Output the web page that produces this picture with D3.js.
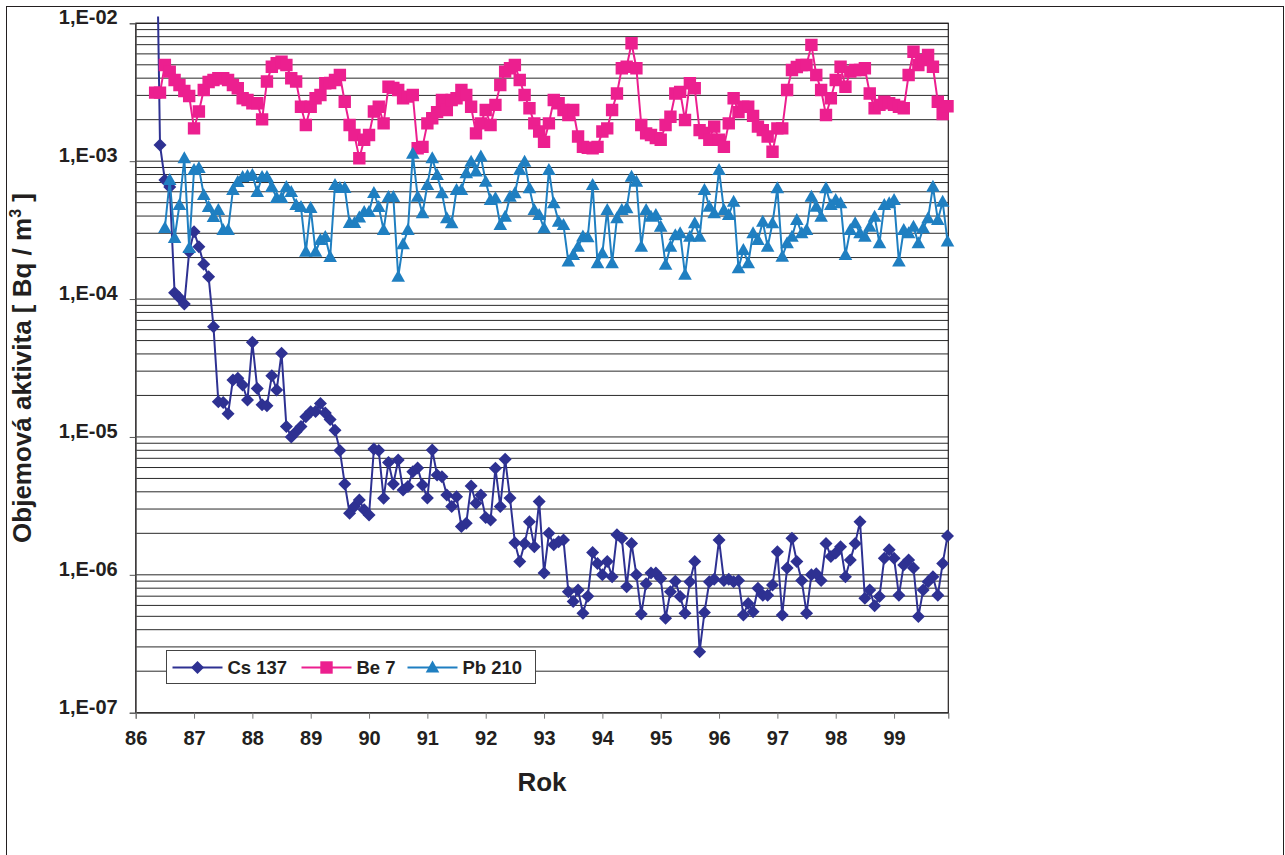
<!DOCTYPE html>
<html>
<head>
<meta charset="utf-8">
<script src="https://cdn.jsdelivr.net/npm/d3@7"></script>
<style>
  body { margin: 0; background: #fff; }
  svg text { font-family: "Liberation Sans", Arial, sans-serif; font-weight: bold; fill: #231f20; }
</style>
</head>
<body>
<svg id="chart" width="1285" height="855"></svg>
<script>
// -----
// DATA: monthly values, month index counted from Jan 1986 (0)
// -----
const years = [86, 87, 88, 89, 90, 91, 92, 93, 94, 95, 96, 97, 98, 99];
const yTickValues = [1e-7, 1e-6, 1e-5, 1e-4, 1e-3, 1e-2];

const seriesNames = ["Cs 137", "Be 7", "Pb 210"];

const cs137Start = 4; // May 1986
const cs137 = [
  0.28, 1.31e-3, 7.3e-4, 6.5e-4, 1.11e-4, 1.02e-4, 9.2e-5, 2.2e-4,
  3.08e-4, 2.4e-4, 1.79e-4, 1.45e-4, 6.3e-5, 1.8e-5, 1.78e-5, 1.47e-5,
  2.59e-5, 2.67e-5, 2.38e-5, 1.85e-5, 4.86e-5, 2.25e-5, 1.71e-5, 1.68e-5,
  2.78e-5, 2.19e-5, 4.05e-5, 1.19e-5, 1.0e-5, 1.09e-5, 1.19e-5, 1.4e-5,
  1.52e-5, 1.53e-5, 1.75e-5, 1.49e-5, 1.34e-5, 1.12e-5, 7.96e-6, 4.56e-6,
  2.8e-6, 3.13e-6, 3.49e-6, 2.96e-6, 2.72e-6, 8.18e-6, 7.96e-6, 3.59e-6,
  6.52e-6, 4.56e-6, 6.8e-6, 4.13e-6, 4.37e-6, 5.6e-6, 5.95e-6, 4.49e-6,
  3.6e-6, 8.05e-6, 5.3e-6, 5.15e-6, 3.8e-6, 3.13e-6, 3.69e-6, 2.24e-6,
  2.37e-6, 4.41e-6, 3.3e-6, 3.8e-6, 2.6e-6, 2.5e-6, 5.93e-6, 3.13e-6,
  6.89e-6, 3.6e-6, 1.71e-6, 1.25e-6, 1.69e-6, 2.43e-6, 1.6e-6, 3.4e-6,
  1.03e-6, 2.0e-6, 1.65e-6, 1.74e-6, 1.79e-6, 7.55e-7, 6.4e-7, 7.76e-7,
  5.27e-7, 7.0e-7, 1.45e-6, 1.21e-6, 1.0e-6, 1.25e-6, 9.7e-7, 1.95e-6,
  1.84e-6, 8.2e-7, 1.69e-6, 1.0e-6, 5.2e-7, 8.6e-7, 1.03e-6, 1.03e-6,
  9.4e-7, 4.84e-7, 7.55e-7, 9.0e-7, 6.95e-7, 5.27e-7, 8.9e-7, 1.25e-6,
  2.77e-7, 5.33e-7, 8.9e-7, 9.3e-7, 1.79e-6, 9.1e-7, 9.3e-7, 8.9e-7,
  9.1e-7, 5.12e-7, 6.2e-7, 5.4e-7, 8.0e-7, 7.1e-7, 7.1e-7, 8.45e-7,
  1.47e-6, 5.12e-7, 1.12e-6, 1.84e-6, 1.25e-6, 9.1e-7, 5.27e-7, 1.0e-6,
  1.02e-6, 9.1e-7, 1.69e-6, 1.36e-6, 1.44e-6, 1.6e-6, 9.7e-7, 1.28e-6,
  1.69e-6, 2.43e-6, 6.76e-7, 7.76e-7, 5.96e-7, 6.95e-7, 1.32e-6, 1.52e-6,
  1.32e-6, 7.1e-7, 1.18e-6, 1.28e-6, 1.12e-6, 4.98e-7, 7.76e-7, 8.9e-7,
  9.7e-7, 7.1e-7, 1.21e-6, 1.91e-6
];

const be7Start = 4; // May 1986
const be7 = [
  3.14e-3, 3.14e-3, 4.99e-3, 4.46e-3, 3.88e-3, 3.57e-3, 3.23e-3, 2.97e-3,
  1.73e-3, 2.29e-3, 3.28e-3, 3.75e-3, 3.88e-3, 3.99e-3, 3.99e-3, 3.88e-3,
  3.57e-3, 3.38e-3, 2.86e-3, 2.78e-3, 2.63e-3, 2.63e-3, 2.01e-3, 3.78e-3,
  4.84e-3, 5.13e-3, 5.27e-3, 4.99e-3, 3.99e-3, 3.78e-3, 2.48e-3, 1.83e-3,
  2.48e-3, 2.86e-3, 3.02e-3, 3.67e-3, 3.69e-3, 3.88e-3, 4.22e-3, 2.7e-3,
  1.83e-3, 1.55e-3, 1.05e-3, 1.43e-3, 1.55e-3, 2.29e-3, 2.48e-3, 1.88e-3,
  3.47e-3, 3.4e-3, 3.28e-3, 2.86e-3, 2.94e-3, 3.02e-3, 1.24e-3, 1.27e-3,
  1.88e-3, 2.05e-3, 2.27e-3, 2.78e-3, 2.35e-3, 2.78e-3, 2.86e-3, 3.28e-3,
  3.02e-3, 2.48e-3, 1.59e-3, 1.88e-3, 2.35e-3, 1.83e-3, 2.56e-3, 3.57e-3,
  4.46e-3, 4.72e-3, 4.99e-3, 3.88e-3, 3.02e-3, 2.42e-3, 1.88e-3, 1.64e-3,
  1.38e-3, 1.88e-3, 2.78e-3, 2.63e-3, 2.35e-3, 2.16e-3, 2.35e-3, 1.51e-3,
  1.27e-3, 1.25e-3, 1.24e-3, 1.27e-3, 1.64e-3, 1.73e-3, 2.35e-3, 3.1e-3,
  4.72e-3, 4.84e-3, 7.16e-3, 4.72e-3, 1.83e-3, 1.59e-3, 1.55e-3, 1.47e-3,
  1.43e-3, 1.83e-3, 2.1e-3, 3.1e-3, 3.18e-3, 1.99e-3, 3.67e-3, 3.38e-3,
  1.68e-3, 1.6e-3, 1.43e-3, 1.78e-3, 1.43e-3, 1.27e-3, 1.88e-3, 2.86e-3,
  2.27e-3, 2.48e-3, 2.48e-3, 2.13e-3, 1.78e-3, 1.68e-3, 1.51e-3, 1.17e-3,
  1.73e-3, 1.73e-3, 3.28e-3, 4.58e-3, 4.82e-3, 4.99e-3, 4.99e-3, 6.97e-3,
  4.22e-3, 3.28e-3, 2.16e-3, 2.86e-3, 3.88e-3, 4.84e-3, 3.47e-3, 4.46e-3,
  4.58e-3, 4.58e-3, 4.72e-3, 3.1e-3, 2.42e-3, 2.56e-3, 2.7e-3, 2.63e-3,
  2.56e-3, 2.48e-3, 2.42e-3, 4.22e-3, 6.22e-3, 4.99e-3, 5.42e-3, 5.89e-3,
  4.84e-3, 2.7e-3, 2.2e-3, 2.5e-3
];

const pb210Start = 6; // Jul 1986
const pb210 = [
  3.28e-4, 7.3e-4, 2.77e-4, 4.81e-4, 1.05e-3, 2.35e-4, 8.63e-4, 8.93e-4,
  5.69e-4, 4.65e-4, 3.94e-4, 4.43e-4, 3.17e-4, 3.17e-4, 6.18e-4, 7.07e-4,
  7.67e-4, 7.8e-4, 7.94e-4, 5.98e-4, 7.67e-4, 7.67e-4, 6.5e-4, 5.41e-4,
  5.41e-4, 6.5e-4, 5.98e-4, 4.81e-4, 4.65e-4, 2.2e-4, 4.57e-4, 2.2e-4,
  2.68e-4, 2.82e-4, 2.02e-4, 6.72e-4, 6.4e-4, 6.4e-4, 3.56e-4, 3.56e-4,
  3.9e-4, 4.28e-4, 4.28e-4, 5.88e-4, 4.65e-4, 3.17e-4, 5.5e-4, 5.5e-4,
  1.45e-4, 2.5e-4, 3.17e-4, 1.13e-3, 5.53e-4, 4.19e-4, 6.72e-4, 1.05e-3,
  7.94e-4, 5.85e-4, 3.86e-4, 3.55e-4, 6.18e-4, 6.18e-4, 8.17e-4, 9.91e-4,
  8.4e-4, 1.08e-3, 7.1e-4, 5.24e-4, 5.38e-4, 3.44e-4, 3.96e-4, 5.53e-4,
  5.85e-4, 8.63e-4, 9.91e-4, 6.35e-4, 4.43e-4, 4.07e-4, 3.26e-4, 8.63e-4,
  4.95e-4, 3.64e-4, 3.44e-4, 1.87e-4, 2.09e-4, 2.4e-4, 2.84e-4, 2.81e-4,
  6.72e-4, 1.82e-4, 2.15e-4, 4.43e-4, 1.82e-4, 3.86e-4, 4.43e-4, 4.55e-4,
  7.72e-4, 7.1e-4, 2.4e-4, 4.43e-4, 3.96e-4, 4.07e-4, 3.35e-4, 1.77e-4,
  2.4e-4, 2.9e-4, 3.0e-4, 1.5e-4, 2.83e-4, 3.55e-4, 2.83e-4, 6.18e-4,
  4.68e-4, 4.19e-4, 8.63e-4, 4.43e-4, 4.07e-4, 5.08e-4, 1.67e-4, 2.27e-4,
  1.82e-4, 3.0e-4, 2.68e-4, 3.64e-4, 2.4e-4, 3.55e-4, 6.35e-4, 2.03e-4,
  2.54e-4, 2.83e-4, 3.75e-4, 3.0e-4, 3.17e-4, 5.53e-4, 4.68e-4, 3.96e-4,
  6.35e-4, 4.81e-4, 5.24e-4, 4.96e-4, 2.09e-4, 3.17e-4, 3.55e-4, 3.0e-4,
  2.83e-4, 3.35e-4, 3.96e-4, 2.54e-4, 4.81e-4, 4.96e-4, 5.24e-4, 1.87e-4,
  3.17e-4, 3.0e-4, 3.35e-4, 2.54e-4, 3.26e-4, 3.86e-4, 6.53e-4, 3.75e-4,
  5.08e-4, 2.61e-4
];

// -----
// LAYOUT
// -----
const svg = d3.select("#chart");
const plot = { left: 135.7, right: 948.3, top: 23.3, bottom: 712.7 };

const colors = { cs: "#2e3192", be: "#ec1f8f", pb: "#1f7fc1" };

// month index -> decimal year on the category axis
const toYear = m => 86 + m / 12;
const toPoints = (start, values) => values.map((v, i) => ({ t: toYear(start + i), v }));

const xScale = d3.scaleLinear().domain([86, 99.93]).range([plot.left, plot.right]);
const yScale = d3.scaleLog().domain([1e-7, 1e-2]).range([plot.bottom, plot.top]);

// outer chart border
svg.append("rect")
  .attr("x", 6.5).attr("y", 6.5)
  .attr("width", 1277).attr("height", 870)
  .attr("fill", "none").attr("stroke", "#231f20").attr("stroke-width", 1);

// grid: every 1..9 of each decade
svg.append("g")
  .attr("class", "grid")
  .selectAll("line")
  .data(yScale.ticks())
  .join("line")
  .attr("x1", plot.left).attr("x2", plot.right)
  .attr("y1", d => yScale(d)).attr("y2", d => yScale(d))
  .attr("stroke", "#2a2a2a").attr("stroke-width", 1);

// plot frame
svg.append("rect")
  .attr("x", plot.left).attr("y", plot.top)
  .attr("width", plot.right - plot.left).attr("height", plot.bottom - plot.top)
  .attr("fill", "none").attr("stroke", "#231f20").attr("stroke-width", 1.2);

// y axis (labels sit a little above their gridline, as in the original)
const yAxis = d3.axisLeft(yScale)
  .tickValues(yTickValues)
  .tickSize(6)
  .tickPadding(12)
  .tickFormat(d => "1,E-" + String(Math.round(-Math.log10(d))).padStart(2, "0"));

svg.append("g")
  .attr("transform", `translate(${plot.left},0)`)
  .call(yAxis)
  .call(g => g.select(".domain").attr("stroke", "#555"))
  .call(g => g.selectAll(".tick line").attr("stroke", "#555"))
  .call(g => g.selectAll(".tick text")
    .attr("font-size", 20).attr("font-family", null).attr("fill", "#231f20")
    .attr("y", -6));

// x axis
const xAxis = d3.axisBottom(xScale)
  .tickValues(years)
  .tickSize(6)
  .tickPadding(12)
  .tickFormat(d => String(d));

svg.append("g")
  .attr("transform", `translate(0,${plot.bottom})`)
  .call(xAxis)
  .call(g => g.select(".domain").attr("stroke", "#555"))
  .call(g => g.selectAll(".tick line").attr("stroke", "#777"))
  .call(g => g.selectAll(".tick text")
    .attr("font-size", 20).attr("font-family", null).attr("fill", "#231f20"));

// axis titles
svg.append("text")
  .attr("x", (plot.left + plot.right) / 2)
  .attr("y", 791)
  .attr("text-anchor", "middle")
  .attr("font-size", 26)
  .text("Rok");

const yTitle = svg.append("text")
  .attr("transform", "translate(31,368) rotate(-90)")
  .attr("text-anchor", "middle")
  .attr("font-size", 26);
yTitle.append("tspan").text("Objemová aktivita [ Bq / m");
yTitle.append("tspan").attr("font-size", 16).attr("dy", -10).text("3");
yTitle.append("tspan").attr("dy", 10).text(" ]");

// -----
// SERIES
// -----
const markers = {
  diamond: "M0,-6.5L6.5,0L0,6.5L-6.5,0Z",
  square: "M-6.2,-6.2H6.2V6.2H-6.2Z",
  triangle: "M0,-7L6.8,5L-6.8,5Z"
};

const series = [
  { name: seriesNames[0], data: toPoints(cs137Start, cs137), color: colors.cs, marker: markers.diamond },
  { name: seriesNames[1], data: toPoints(be7Start, be7), color: colors.be, marker: markers.square },
  { name: seriesNames[2], data: toPoints(pb210Start, pb210), color: colors.pb, marker: markers.triangle }
];

svg.append("clipPath").attr("id", "plot-clip")
  .append("rect")
  .attr("x", plot.left).attr("y", 16.5)
  .attr("width", plot.right - plot.left + 8)
  .attr("height", plot.bottom - 16.5);

const line = d3.line()
  .x(d => xScale(d.t))
  .y(d => yScale(d.v));

const ctrSeries = svg.append("g").attr("clip-path", "url(#plot-clip)");

series.forEach(s => {
  const g = ctrSeries.append("g").attr("class", "series");
  g.append("path")
    .datum(s.data)
    .attr("d", line)
    .attr("fill", "none")
    .attr("stroke", s.color)
    .attr("stroke-width", 2)
    .attr("stroke-linejoin", "round");
  g.selectAll("path.marker")
    .data(s.data)
    .join("path")
    .attr("class", "marker")
    .attr("d", s.marker)
    .attr("transform", d => `translate(${xScale(d.t)},${yScale(d.v)})`)
    .attr("fill", s.color);
});

// -----
// LEGEND
// -----
const legend = svg.append("g").attr("transform", "translate(166.5,650.5)");
legend.append("rect")
  .attr("width", 369).attr("height", 33)
  .attr("fill", "#fff").attr("stroke", "#444").attr("stroke-width", 1);

const legendX = [6, 135, 241];
const legendItem = legend.selectAll("g.item")
  .data(series)
  .join("g")
  .attr("class", "item")
  .attr("transform", (d, i) => `translate(${legendX[i]},17)`);

legendItem.append("line")
  .attr("x1", 0).attr("x2", 50)
  .attr("stroke", d => d.color).attr("stroke-width", 2);
legendItem.append("path")
  .attr("d", d => d.marker)
  .attr("transform", "translate(25,0)")
  .attr("fill", d => d.color);
legendItem.append("text")
  .attr("x", 55).attr("y", 6.5)
  .attr("font-size", 18.5)
  .text(d => d.name);
</script>
</body>
</html>
